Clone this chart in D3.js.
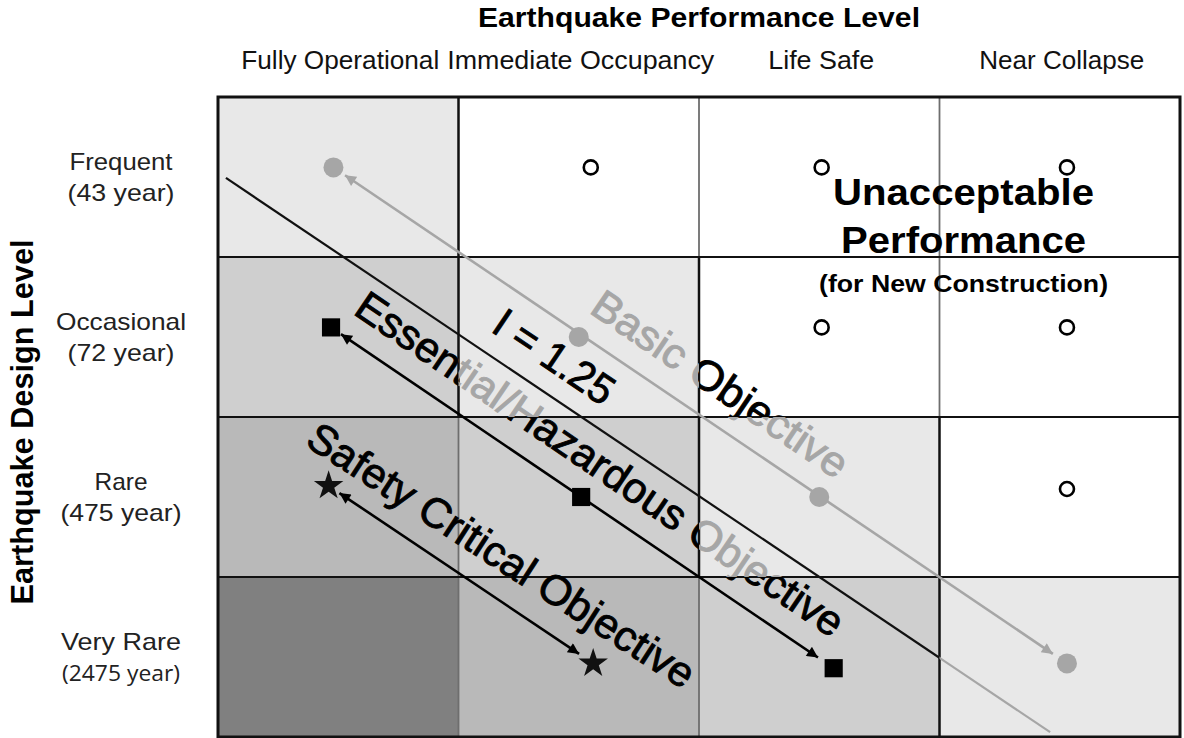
<!DOCTYPE html>
<html><head><meta charset="utf-8">
<script src="https://cdn.jsdelivr.net/npm/d3@7"></script>
<style>body{margin:0;background:#fff}svg{display:block}</style>
</head><body><svg id="chart" width="1184" height="738"></svg>
<script>
// ---------- data ----------
const chartTitle = "Earthquake Performance Level";
const yTitle = "Earthquake Design Level";
const performanceLevels = ["Fully Operational", "Immediate Occupancy", "Life Safe", "Near Collapse"];
const designLevels = ["Frequent", "Occasional", "Rare", "Very Rare"];
const returnPeriods = ["(43 year)", "(72 year)", "(475 year)", "(2475 year)"];
// shade level per cell (row = design level, col = performance level)
const cellShade = [
  [1, 0, 0, 0],
  [2, 1, 0, 0],
  [3, 2, 1, 0],
  [4, 3, 2, 1]
];
// objective points (position in performance / design level units)
const basicX = [0.48, 1.50, 2.50, 3.53];
const basicY = [0.44, 1.50, 2.50, 3.54];
const essentialX = [0.47, 1.51, 2.56];
const essentialY = [1.44, 2.50, 3.57];
const safetyX = [0.46, 1.56];
const safetyY = [2.43, 3.54];
const unacceptableX = [1.55, 2.51, 3.53, 2.51, 3.53, 3.53];
const unacceptableY = [0.44, 0.44, 0.44, 1.44, 1.44, 2.45];
const importanceX = [0.033, 3.46];
const importanceY = [0.506, 3.97];
const labels = {
  basic: "Basic Objective",
  essential: "Essential/Hazardous Objective",
  safety: "Safety Critical Objective",
  importance: "I = 1.25",
  unacc1: "Unacceptable",
  unacc2: "Performance",
  unacc3: "(for New Construction)"
};

// ---------- styles / layout ----------
const shadeColors = ["#ffffff", "#e8e8e8", "#cfcfcf", "#b9b9b9", "#808080"];
const GRAY = "#a6a6a6";
const FONT = "'Liberation Sans', Arial, Helvetica, sans-serif";
const svg = d3.select("#chart");
const x = d3.scaleLinear().domain([0, 4]).range([218, 1180]);
const y = d3.scaleLinear().domain([0, 4]).range([97, 737]);
const defs = svg.append("defs");

const cells = [];
cellShade.forEach((row, r) => row.forEach((s, c) => cells.push({r, c, s})));

function clip(id, filter) {
  const cp = defs.append("clipPath").attr("id", id);
  cells.filter(filter).forEach(d => cp.append("rect")
    .attr("x", x(d.c)).attr("y", y(d.r))
    .attr("width", x(d.c + 1) - x(d.c)).attr("height", y(d.r + 1) - y(d.r)));
}
clip("diag", d => d.r === d.c);
clip("offdiag", d => d.r !== d.c);
clip("cell33", d => d.r === 3 && d.c === 3);
clip("not33", d => !(d.r === 3 && d.c === 3));

function marker(id, color) {
  defs.append("marker").attr("id", id)
    .attr("viewBox", "0 0 10 10").attr("refX", 10).attr("refY", 5)
    .attr("markerWidth", 13).attr("markerHeight", 11)
    .attr("markerUnits", "userSpaceOnUse").attr("orient", "auto-start-reverse")
    .append("path").attr("d", "M0,0L10,5L0,10z").attr("fill", color);
}
marker("ahGray", GRAY);
marker("ahBlack", "#000");

// ---------- cells ----------
svg.append("g").selectAll("rect").data(cells).join("rect")
  .attr("x", d => x(d.c)).attr("y", d => y(d.r))
  .attr("width", d => x(d.c + 1) - x(d.c)).attr("height", d => y(d.r + 1) - y(d.r))
  .attr("fill", d => shadeColors[d.s]);

// grid lines
const grid = svg.append("g");
for (let c = 1; c < 4; c++) {
  for (let r = 0; r < 4; r++) {
    const dark = (c === r || c === r + 1);
    grid.append("line").attr("x1", x(c)).attr("x2", x(c)).attr("y1", y(r)).attr("y2", y(r + 1))
      .attr("stroke", dark ? "#111" : "#6e6e6e").attr("stroke-width", dark ? 2.5 : 1.8);
  }
}
for (let r = 1; r < 4; r++) {
  grid.append("line").attr("x1", x(0)).attr("x2", x(4)).attr("y1", y(r)).attr("y2", y(r))
    .attr("stroke", "#111").attr("stroke-width", 2.2);
}
grid.append("rect").attr("x", x(0)).attr("y", y(0)).attr("width", x(4) - x(0)).attr("height", y(4) - y(0))
  .attr("fill", "none").attr("stroke", "#111").attr("stroke-width", 3);

// ---------- importance line ----------
const iLine = svg.append("g");
iLine.append("line").attr("x1", x(importanceX[0])).attr("y1", y(importanceY[0]))
  .attr("x2", x(importanceX[1])).attr("y2", y(importanceY[1]))
  .attr("stroke", "#111").attr("stroke-width", 2.2).attr("clip-path", "url(#not33)");
iLine.append("line").attr("x1", x(importanceX[0])).attr("y1", y(importanceY[0]))
  .attr("x2", x(importanceX[1])).attr("y2", y(importanceY[1]))
  .attr("stroke", GRAY).attr("stroke-width", 2.2).attr("clip-path", "url(#cell33)");

// ---------- objective arrows ----------
function arrow(xs, ys, color, mk, off0, off1) {
  const n = xs.length - 1;
  const x0 = x(xs[0]), y0 = y(ys[0]), x1 = x(xs[n]), y1 = y(ys[n]);
  const L = Math.hypot(x1 - x0, y1 - y0), ux = (x1 - x0) / L, uy = (y1 - y0) / L;
  svg.append("line")
    .attr("x1", x0 + ux * off0).attr("y1", y0 + uy * off0)
    .attr("x2", x1 - ux * off1).attr("y2", y1 - uy * off1)
    .attr("stroke", color).attr("stroke-width", 2.6)
    .attr("marker-start", `url(#${mk})`).attr("marker-end", `url(#${mk})`);
  return Math.atan2(y1 - y0, x1 - x0) * 180 / Math.PI;
}
const angBasic = arrow(basicX, basicY, GRAY, "ahGray", 14, 17);
const angEss = arrow(essentialX, essentialY, "#000", "ahBlack", 12, 19);
const angSafe = arrow(safetyX, safetyY, "#000", "ahBlack", 13, 17);
const angI = Math.atan2(y(importanceY[1]) - y(importanceY[0]), x(importanceX[1]) - x(importanceX[0])) * 180 / Math.PI;

// markers
svg.append("g").selectAll("circle").data(basicX).join("circle")
  .attr("cx", d => x(d)).attr("cy", (d, i) => y(basicY[i])).attr("r", 10).attr("fill", GRAY);
svg.append("g").selectAll("path").data(essentialX).join("path")
  .attr("transform", (d, i) => `translate(${x(d)},${y(essentialY[i])})`)
  .attr("d", d3.symbol(d3.symbolSquare, 330)).attr("fill", "#000");
svg.append("g").selectAll("path").data(safetyX).join("path")
  .attr("transform", (d, i) => `translate(${x(d)},${y(safetyY[i])})`)
  .attr("d", d3.symbol(d3.symbolStar, 270)).attr("fill", "#111");
svg.append("g").selectAll("circle").data(unacceptableX).join("circle")
  .attr("cx", d => x(d)).attr("cy", (d, i) => y(unacceptableY[i])).attr("r", 7)
  .attr("fill", "#fff").attr("stroke", "#000").attr("stroke-width", 2.6);

// ---------- text helpers ----------
function txt(g, str, px, py, o) {
  const t = g.append("text").attr("x", px).attr("y", py).text(str)
    .attr("font-family", o.family || FONT).attr("font-size", o.size)
    .attr("font-weight", o.weight || "normal").attr("fill", o.fill || "#000")
    .attr("text-anchor", o.anchor || "middle");
  if (o.len) t.attr("textLength", o.len).attr("lengthAdjust", "spacingAndGlyphs");
  if (o.transform) t.attr("transform", o.transform);
  if (o.clip) t.attr("clip-path", o.clip);
  if (o.dy) t.attr("dy", o.dy);
  if (o.stroke) t.attr("stroke", o.fill || "#000").attr("stroke-width", o.stroke);
  return t;
}
function diagText(str, cx, cy, ang, len, size, twoTone, color) {
  const place = (fill, clipId) => {
    const g = svg.append("g");
    if (clipId) g.attr("clip-path", `url(#${clipId})`);
    txt(g, str, 0, 0, {size, len, fill, dy: "0.36em", stroke: 0.9,
      transform: `translate(${cx},${cy}) rotate(${ang})`});
  };
  if (twoTone) { place("#000", "offdiag"); place(GRAY, "diag"); }
  else place(color || "#000", null);
}

diagText(labels.basic, x(2.09), y(1.79), angBasic, 300, 42, true);
diagText(labels.essential, x(1.59), y(2.29), angEss, 580, 42, true);
diagText(labels.safety, x(1.18), y(2.86), angSafe - 1, 452, 42, false);
diagText(labels.importance, x(1.40), y(1.62), angI, 136, 42, false);

// unacceptable label
const ua = svg.append("g");
txt(ua, labels.unacc1, x(3.10), y(0.675), {size: 37, weight: "bold", len: 261});
txt(ua, labels.unacc2, x(3.10), y(0.975), {size: 37, weight: "bold", len: 245});
txt(ua, labels.unacc3, x(3.10), y(1.22), {size: 24, weight: "bold", len: 289});

// ---------- axis labels ----------
const axes = svg.append("g");
txt(axes, chartTitle, (x(0) + x(4)) / 2, 27, {size: 27, weight: "bold", len: 442});
const colW = [198, 267, 106, 165];
performanceLevels.forEach((p, i) => {
  txt(axes, p, x(i + 0.5) + 2, 69, {size: 25, len: colW[i], fill: "#111"});
});
const rowW1 = [103, 130, 53, 120], rowW2 = [107, 107, 121, 118];
designLevels.forEach((d, i) => {
  txt(axes, d, 121, y(i + 0.5) - 7, {size: 24, len: rowW1[i], fill: "#222"});
  txt(axes, returnPeriods[i], 121, y(i + 0.5) + 24, {size: i === 3 ? 21 : 24, len: rowW2[i], fill: "#222",
    family: i === 3 ? "'Open Sans', 'Noto Sans', sans-serif" : FONT});
});
txt(axes, yTitle, 0, 0, {size: 31, weight: "bold", len: 365,
  transform: `translate(33,${422}) rotate(-90)`});
</script>
</body></html>
